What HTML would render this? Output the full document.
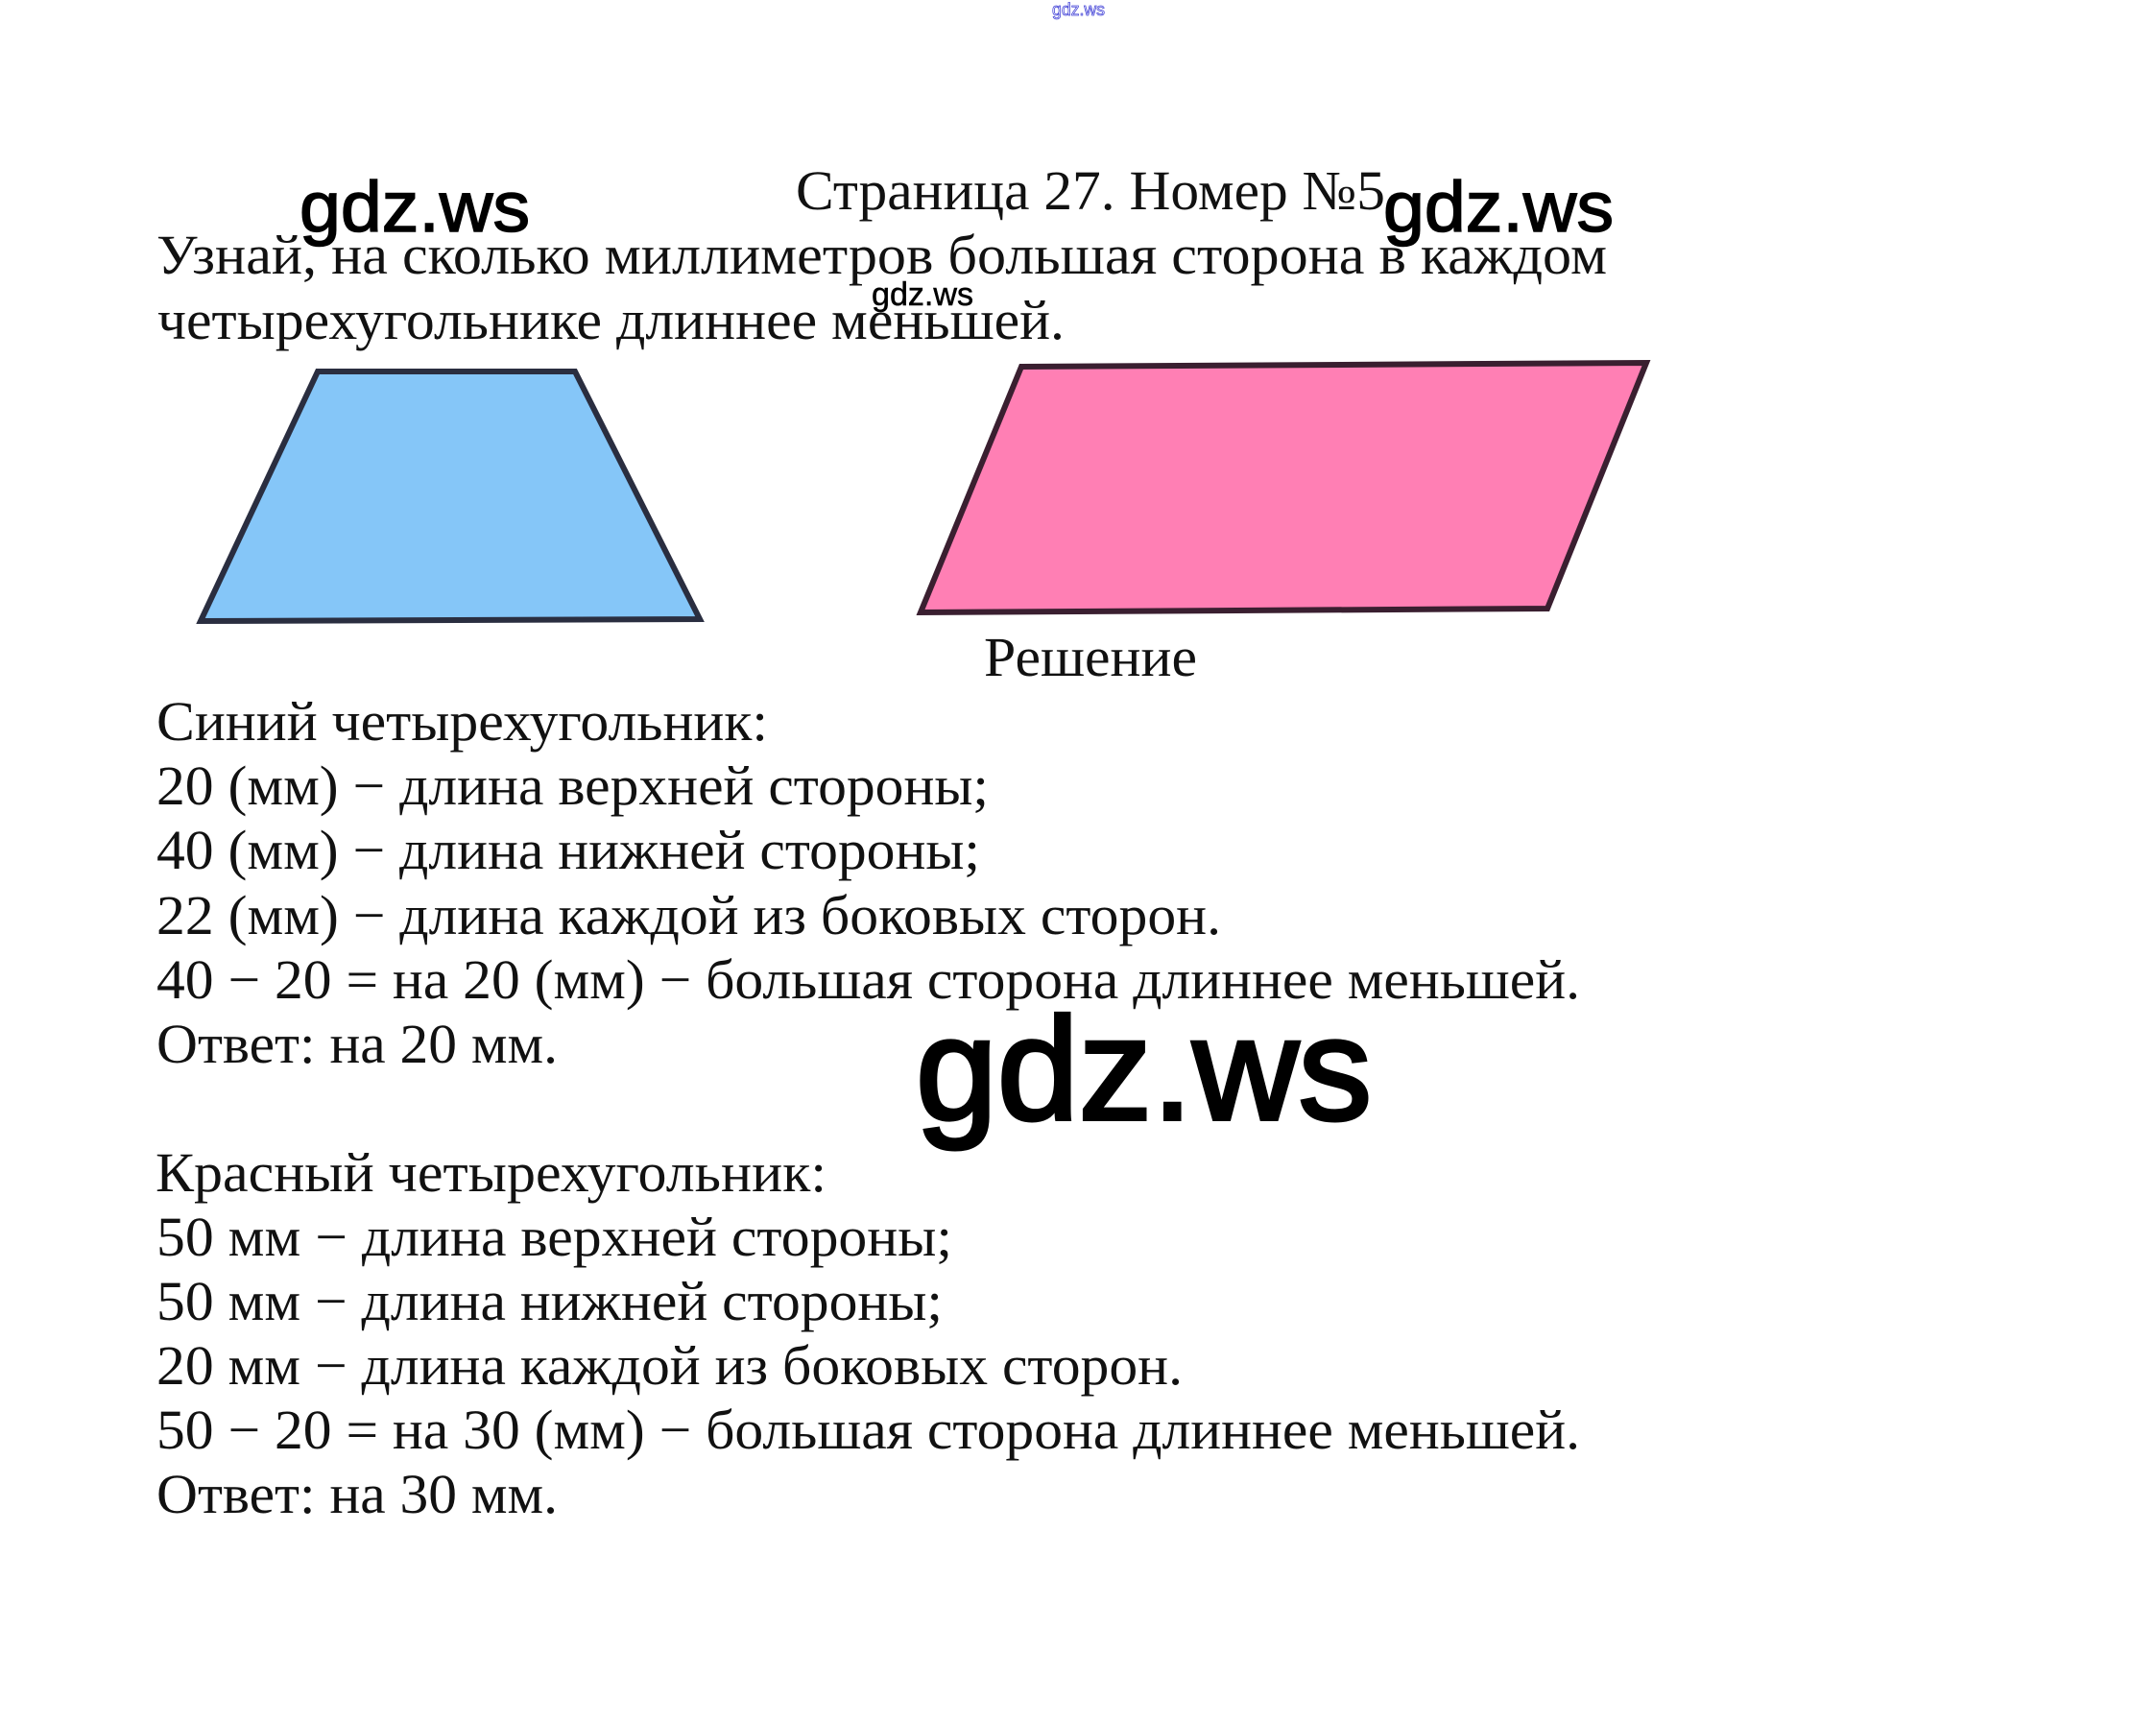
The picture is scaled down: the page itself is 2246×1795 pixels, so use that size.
<!DOCTYPE html>
<html><head><meta charset="utf-8"><style>
html,body{margin:0;padding:0;background:#fff}
svg{display:block}
.t{font-family:"Liberation Serif",serif;font-size:58px;fill:#111}
.w{font-family:"Liberation Sans",sans-serif;fill:#000}
</style></head><body>
<svg width="2246" height="1795" viewBox="0 0 2246 1795" xmlns="http://www.w3.org/2000/svg">
<rect width="2246" height="1795" fill="#fff"/>
<polygon points="331,387 599,387 729,645 209,647" fill="#85c6f8" stroke="#2a2e40" stroke-width="6"/>
<polygon points="1064,382 1715,378 1612,634 959,638" fill="#ff7fb4" stroke="#3a1f30" stroke-width="6"/>

<g class="t">
<text x="829" y="218" textLength="614" lengthAdjust="spacingAndGlyphs">Страница 27. Номер №5</text>
<text x="163" y="285" textLength="1511" lengthAdjust="spacingAndGlyphs">Узнай, на сколько миллиметров большая сторона в каждом</text>
<text x="164" y="353" textLength="945" lengthAdjust="spacingAndGlyphs">четырехугольнике длиннее меньшей.</text>
<text x="1025" y="704" textLength="222" lengthAdjust="spacingAndGlyphs">Решение</text>
<text x="163" y="771" textLength="637" lengthAdjust="spacingAndGlyphs">Синий четырехугольник:</text>
<text x="163" y="838" textLength="867" lengthAdjust="spacingAndGlyphs">20 (мм) − длина верхней стороны;</text>
<text x="163" y="905" textLength="858" lengthAdjust="spacingAndGlyphs">40 (мм) − длина нижней стороны;</text>
<text x="163" y="973" textLength="1109" lengthAdjust="spacingAndGlyphs">22 (мм) − длина каждой из боковых сторон.</text>
<text x="163" y="1040" textLength="1483" lengthAdjust="spacingAndGlyphs">40 − 20 = на 20 (мм) − большая сторона длиннее меньшей.</text>
<text x="163" y="1107" textLength="418" lengthAdjust="spacingAndGlyphs">Ответ: на 20 мм.</text>
<text x="162" y="1241" textLength="699" lengthAdjust="spacingAndGlyphs">Красный четырехугольник:</text>
<text x="163" y="1308" textLength="829" lengthAdjust="spacingAndGlyphs">50 мм − длина верхней стороны;</text>
<text x="163" y="1375" textLength="819" lengthAdjust="spacingAndGlyphs">50 мм − длина нижней стороны;</text>
<text x="163" y="1442" textLength="1069" lengthAdjust="spacingAndGlyphs">20 мм − длина каждой из боковых сторон.</text>
<text x="163" y="1509" textLength="1483" lengthAdjust="spacingAndGlyphs">50 − 20 = на 30 (мм) − большая сторона длиннее меньшей.</text>
<text x="163" y="1576" textLength="418" lengthAdjust="spacingAndGlyphs">Ответ: на 30 мм.</text>
</g>

<text class="w" x="312" y="241" font-size="74" textLength="240" lengthAdjust="spacingAndGlyphs" stroke="#000" stroke-width="1.5">gdz.ws</text>
<text class="w" x="1441" y="241" font-size="74" textLength="240" lengthAdjust="spacingAndGlyphs" stroke="#000" stroke-width="1.5">gdz.ws</text>
<text class="w" x="908" y="318" font-size="34" textLength="106" lengthAdjust="spacingAndGlyphs" stroke="#000" stroke-width="0.5">gdz.ws</text>
<text class="w" x="954" y="1166" font-size="152" textLength="475" lengthAdjust="spacingAndGlyphs" stroke="#000" stroke-width="4">gdz.ws</text>
<text x="1096" y="16" font-family="Liberation Sans, sans-serif" font-size="18" textLength="55" lengthAdjust="spacingAndGlyphs" fill="#fff" stroke="#4848d8" stroke-width="0.8">gdz.ws</text>
</svg>
</body></html>
